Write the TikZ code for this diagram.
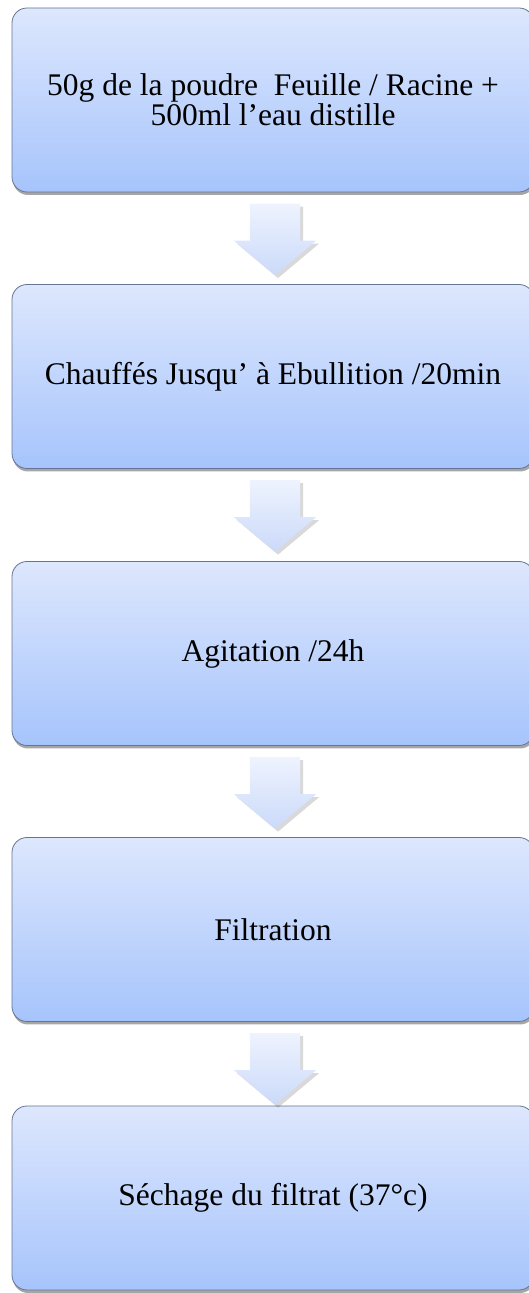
\documentclass[tikz,border=0pt]{standalone}
\usepackage{fontspec}
\setmainfont{Liberation Serif}
\usetikzlibrary{shapes.arrows,shadows,calc}
\definecolor{boxtop}{HTML}{DDE7FD}
\definecolor{boxbot}{HTML}{A6C4FC}
\definecolor{boxline}{HTML}{667591}
\definecolor{arrtop}{HTML}{EEF3FE}
\definecolor{arrbot}{HTML}{CBDAFA}
\begin{document}
\begin{tikzpicture}[x=1pt, y=1pt,
  stepbox/.style={draw=boxline, line width=0.8pt, rounded corners=15pt,
    top color=boxtop, bottom color=boxbot, minimum width=522pt, minimum height=184pt,
    align=center, font=\fontsize{31.5}{28}\selectfont,
    drop shadow={shadow xshift=1pt, shadow yshift=-3pt, opacity=0.35, fill=black}},
  downarr/.style={single arrow, shape border rotate=270, inner sep=25pt, anchor=tail,
    minimum height=69pt, single arrow head extend=16pt, single arrow tip angle=100,
    top color=arrtop, bottom color=arrbot, draw=none, xshift=2pt,
    drop shadow={shadow xshift=3pt, shadow yshift=-3pt, opacity=0.15, fill=black}}]
  \useasboundingbox (0,0) rectangle (529,1293);
  \node[stepbox] (b1) at (273,1193) {50g de la poudre~ Feuille / Racine +\\500ml l’eau distille};
  \node[stepbox] (b2) at (273,916.5) {Chauffés Jusqu’ à Ebullition /20min};
  \node[stepbox] (b3) at (273,639.5) {Agitation /24h};
  \node[stepbox] (b4) at (273,363.5) {Filtration};
  \node[stepbox] (b5) at (273,95) {Séchage du filtrat (37°c)};
  % arrows between the steps
  \node[downarr] (a1) at ([yshift=-11pt]b1.south) {};
  \node[downarr] (a2) at ([yshift=-11pt]b2.south) {};
  \node[downarr] (a3) at ([yshift=-11pt]b3.south) {};
  \node[downarr] (a4) at ([yshift=-11pt]b4.south) {};
\end{tikzpicture}
\end{document}
